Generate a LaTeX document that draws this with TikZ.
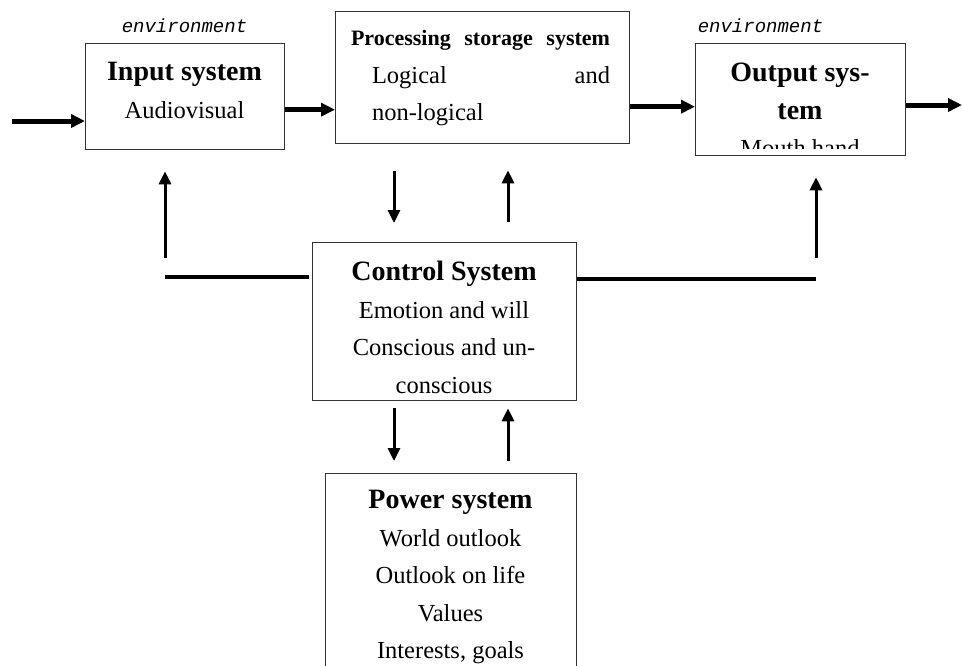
\documentclass[tikz,border=0pt]{standalone}
\usepackage{fontspec}
\setmainfont{Liberation Serif}
\setmonofont{Liberation Mono}
\usetikzlibrary{arrows.meta}

\newcommand{\boxhead}[1]{{\fontsize{28}{37.5}\selectfont\bfseries #1}}

\begin{document}
\begin{tikzpicture}[x=1pt, y=-1pt,
    box/.style={rectangle, draw=black!80, line width=1.3pt, anchor=north west, inner sep=0pt},
    body/.style={align=center, inner sep=0pt, font=\fontsize{24.5}{37.5}\selectfont},
    env/.style={inner sep=0pt, font=\fontsize{19}{20}\selectfont\ttfamily\itshape},
    flow/.style={-{Triangle[length=14pt,width=13pt]}, line width=5pt},
    arrow/.style={-{Triangle[length=13pt,width=12pt]}, line width=3pt},
    link/.style={line width=3.5pt}
]
    \clip (0,0) rectangle (962,665);

    % boxes
    \node[box, minimum width=199pt, minimum height=106pt] (inp) at (85,43) {};
    \node[box, minimum width=294pt, minimum height=132pt] (proc) at (335,11) {};
    \node[box, minimum width=210pt, minimum height=112pt] (outp) at (695,43) {};
    \node[box, minimum width=264pt, minimum height=158pt] (ctrl) at (312,242) {};
    \node[box, minimum width=251pt, minimum height=240pt] (pow) at (325,473) {};

    % texts
    \node[env] (envin) at (184.5,26) {environment};
    \node[env] (envout) at (760.5,26) {environment};
    \node[body] (inptxt) at (184.5,90.5) {\boxhead{Input system}\\Audiovisual};
    \node[body, text width=259pt, align=left] (proctxt) at (480.5,78.5)
        {{\fontsize{22}{37.5}\selectfont\bfseries Processing\hfill storage\hfill system}\\
         \hspace*{21pt}Logical\hfill and\\
         \hspace*{21pt}non-logical};
    \begin{scope}
        \clip (outp.north west) rectangle ([yshift=8pt]outp.south east);
        \node[body] (outtxt) at (800,110) {\boxhead{Output sys-}\\\boxhead{tem}\\Mouth hand};
    \end{scope}
    \node[body] (ctrltxt) at (444,327.5)
        {\boxhead{Control System}\\Emotion and will\\Conscious and un-\\conscious};
    \node[body] (powtxt) at (450.5,577)
        {\boxhead{Power system}\\World outlook\\Outlook on life\\Values\\Interests, goals};

    % main flow
    \coordinate (src) at (12,121);
    \coordinate (sink) at (962,105);
    \draw[flow] (src) -- (src -| inp.west);
    \draw[flow] ([yshift=-13pt]inp.east) -- ([yshift=-13pt]inp.east -| proc.west);
    \draw[flow] ([yshift=-29pt]proc.east) -- ([yshift=-29pt]proc.east -| outp.west);
    \draw[flow] (sink -| outp.east) -- (sink);

    % control loops
    \coordinate (laneA) at (394,0);
    \coordinate (laneB) at (508,0);
    \draw[arrow, shorten <=27pt, shorten >=19pt] (proc.south -| laneA) -- (ctrl.north -| laneA);
    \draw[arrow, shorten <=20pt, shorten >=26pt] (ctrl.north -| laneB) -- (proc.south -| laneB);
    \draw[arrow, shorten <=7pt, shorten >=12pt] (ctrl.south -| laneA) -- (pow.north -| laneA);
    \draw[arrow, shorten <=12pt, shorten >=7pt] (pow.north -| laneB) -- (ctrl.south -| laneB);

    % feedback to input and output
    \coordinate (fbL) at (165,277);
    \coordinate (upL) at (165,258);
    \coordinate (fbR) at (816,279);
    \coordinate (upR) at (816,258);
    \draw[link, shorten >=3pt] (fbL) -- (fbL -| ctrl.west);
    \draw[arrow, shorten >=21pt] (upL) -- (upL |- inp.south);
    \draw[link] (fbR -| ctrl.east) -- (fbR);
    \draw[arrow, shorten >=21pt] (upR) -- (upR |- outp.south);
\end{tikzpicture}
\end{document}
